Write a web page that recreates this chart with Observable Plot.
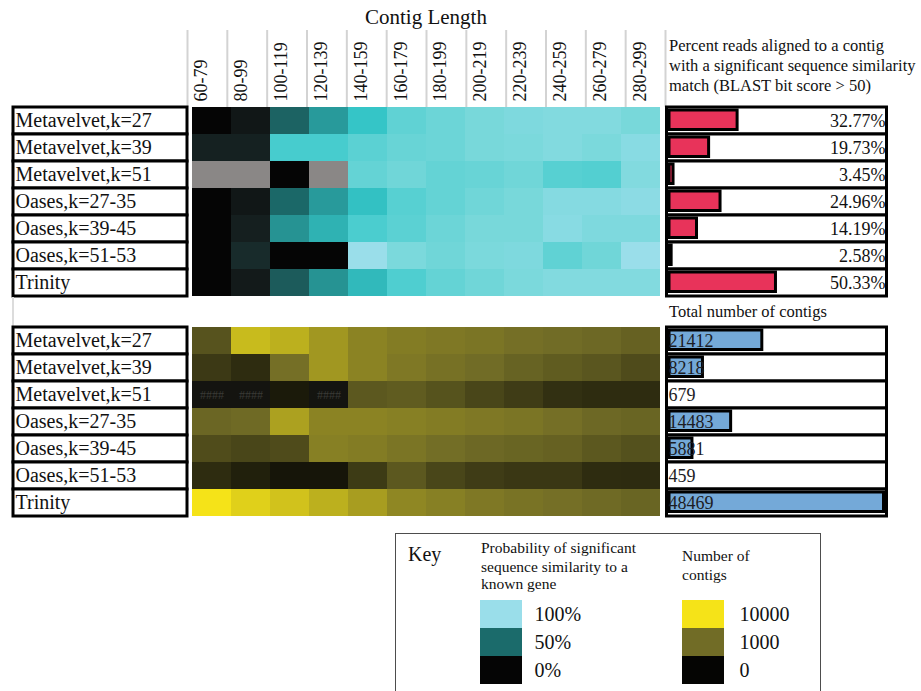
<!DOCTYPE html>
<html>
<head>
<meta charset="utf-8">
<script src="https://cdn.jsdelivr.net/npm/d3@7"></script>
<script src="https://cdn.jsdelivr.net/npm/@observablehq/plot@0.6"></script>
<style>
  html, body { margin: 0; padding: 0; background: #fff; overflow: hidden; }
  #root { position: relative; width: 921px; height: 691px; overflow: hidden; background: #fff;
          font-family: "Liberation Serif", "Times New Roman", serif; color: #111; }
  .abs { position: absolute; }
  .abs svg { display: block; max-width: none; }
  .abs svg, .abs svg g, .abs svg text { font-family: "Liberation Serif", "Times New Roman", serif !important; }
</style>
</head>
<body>
<div id="root"></div>
<script>
// ---------- data ----------
const columns = ["60-79", "80-99", "100-119", "120-139", "140-159", "160-179",
                 "180-199", "200-219", "220-239", "240-259", "260-279", "280-299"];
const assemblers = ["Metavelvet,k=27", "Metavelvet,k=39", "Metavelvet,k=51",
                    "Oases,k=27-35", "Oases,k=39-45", "Oases,k=51-53", "Trinity"];

// Probability (%) of significant sequence similarity per contig-length bin (null = error cell)
const probMetavelvet27 = [0, 12, 47, 62, 73, 84, 87, 90, 92, 93, 93, 90];
const probMetavelvet39 = [18, 18, 78, 78, 83, 86, 87, 90, 91, 93, 91, 95];
const probMetavelvet51 = [null, null, 0, null, 85, 88, 85, 86, 88, 82, 81, 93];
const probOases2735    = [0, 12, 49, 62, 72, 82, 85, 88, 90, 94, 94, 96];
const probOases3945    = [0, 17, 60, 68, 79, 83, 87, 90, 90, 95, 92, 92];
const probOases5153    = [0, 23, 0, 0, 100, 91, 88, 91, 92, 84, 88, 100];
const probTrinity      = [0, 14, 44, 60, 70, 80, 85, 88, 91, 93, 93, 93];

// Number of contigs per contig-length bin (null = "####" cell)
const countMetavelvet27 = [190, 4600, 3700, 2300, 1570, 1370, 1270, 1190, 1070, 1000, 780, 480];
const countMetavelvet39 = [32, 13, 1070, 2300, 1570, 1270, 1110, 1000, 540, 330, 230, 110];
const countMetavelvet51 = [null, null, 3, null, 260, 330, 180, 75, 40, 17, 13, 13];
const countOases2735    = [690, 880, 2800, 1570, 1570, 1460, 1370, 1270, 1190, 1070, 780, 610];
const countOases3945    = [120, 75, 110, 1460, 1370, 1190, 1040, 780, 610, 480, 260, 160];
const countOases5153    = [13, 5, 2, 2, 36, 260, 75, 40, 28, 28, 13, 12];
const countTrinity      = [10000, 6950, 5300, 3700, 2600, 1700, 1460, 1270, 1150, 1070, 880, 610];

const readsAlignedPct = [32.77, 19.73, 3.45, 24.96, 14.19, 2.58, 50.33];
const totalContigs = [21412, 8218, 679, 14483, 5881, 459, 48469];

const probKeyValues = [100, 50, 0];
const countKeyValues = [10000, 1000, 0];

// ---------- tables built from the arrays ----------
const probRows = [probMetavelvet27, probMetavelvet39, probMetavelvet51, probOases2735, probOases3945, probOases5153, probTrinity];
const countRows = [countMetavelvet27, countMetavelvet39, countMetavelvet51, countOases2735, countOases3945, countOases5153, countTrinity];
const toCells = rows => assemblers.flatMap((a, i) => columns.map((c, j) => ({assembler: a, length: c, value: rows[i][j]})));
const probCells = toCells(probRows);
const countCells = toCells(countRows);
const readsRows = assemblers.map((a, i) => ({assembler: a, pct: readsAlignedPct[i]}));
const totalRows = assemblers.map((a, i) => ({assembler: a, n: totalContigs[i]}));

// ---------- scales / styles ----------
const probColor = {type: "linear", domain: [0, 50, 90, 100],
                   range: ["#050505", "#1b6b6b", "#78d8da", "#9adeea"], interpolate: "hsl"};
const countColor = {type: "symlog", domain: [0, 1000, 10000],
                    range: ["#050503", "#716c26", "#f5e318"]};
const FONT = "Liberation Serif, Times New Roman, serif";
const baseStyle = {"background": "none", "overflow": "visible", "font-family": FONT, "max-width": "none"};

const root = document.getElementById("root");
function place(svg, left, top, w, h) {
  const d = document.createElement("div");
  d.className = "abs";
  Object.assign(d.style, {left: left + "px", top: top + "px", width: w + "px", height: h + "px"});
  d.appendChild(svg);
  root.appendChild(d);
}
function addText(str, left, baseline, size, extra = {}) {
  const el = document.createElement("div");
  el.textContent = str;
  Object.assign(el.style, {position: "absolute", left: left + "px", top: (baseline - 0.8375 * size) + "px",
    fontSize: size + "px", lineHeight: "1", whiteSpace: "pre", color: "#111"}, extra);
  root.appendChild(el);
}

// ---------- builders ----------
function heatmap(cells, color, nullFill, nullText, H) {
  return Plot.plot({
    width: 478, height: H, margin: 0,
    x: {type: "band", domain: columns, padding: 0, axis: null},
    y: {type: "band", domain: assemblers, padding: 0, axis: null},
    color, style: baseStyle,
    marks: [
      Plot.cell(cells.filter(d => d.value == null), {x: "length", y: "assembler", fill: nullFill, shapeRendering: "crispEdges"}),
      Plot.cell(cells.filter(d => d.value != null), {x: "length", y: "assembler", fill: "value", shapeRendering: "crispEdges"}),
      nullText ? Plot.text(cells.filter(d => d.value == null), {x: "length", y: "assembler", text: () => nullText,
                                                                fill: "#3a3a36", fontSize: 12, fontFamily: FONT}) : null
    ].filter(Boolean)
  });
}
function labels(H) {
  return Plot.plot({
    width: 174, height: H, margin: 0,
    y: {type: "band", domain: assemblers, padding: 0, axis: null},
    style: baseStyle,
    marks: [
      Plot.cell(assemblers, {y: d => d, fill: "white", stroke: "black", strokeWidth: 3}),
      Plot.text(assemblers, {y: d => d, text: d => d, frameAnchor: "left", textAnchor: "start", dx: 2,
                             fontSize: 20, fontFamily: FONT, fill: "#111"})
    ]
  });
}

// ---------- title & header ----------
addText("Contig Length", 187, 25, 21, {width: "478px", textAlign: "center"});

place(Plot.plot({
  width: 478, height: 77, margin: 0,
  x: {type: "linear", domain: [0, columns.length], range: [0, 478], axis: null},
  y: {axis: null},
  style: baseStyle,
  marks: [
    Plot.ruleX(d3.range(columns.length + 1), {stroke: "#d3d3d3", strokeWidth: 2}),
    Plot.text(columns, {x: (d, i) => i + 0.5, frameAnchor: "bottom", rotate: -90, textAnchor: "start",
                        dy: -6, text: d => d, fontSize: 18, fontFamily: FONT, fill: "#111"})
  ]
}), 187, 30, 478, 77);

addText("Percent reads aligned to a contig", 669, 52, 16.5);
addText("with a significant sequence similarity", 669, 72, 16.5);
addText("match (BLAST bit score > 50)", 669, 92, 16.5);

// ---------- top table ----------
place(heatmap(probCells, probColor, "#8a8786", null, 190), 187, 106, 478, 190);
place(labels(189), 13, 107, 174, 189);
place(Plot.plot({
  width: 223, height: 189, margin: 0,
  x: {domain: [0, 100], range: [0.5, 219], axis: null},
  y: {type: "band", domain: assemblers, padding: 0, axis: null},
  style: baseStyle,
  marks: [
    Plot.cell(assemblers, {y: d => d, fill: "white", stroke: "black", strokeWidth: 3, insetLeft: 1.5, insetRight: 1.5}),
    Plot.barX(readsRows, {x: "pct", y: "assembler", fill: "#e8335a", stroke: "black", strokeWidth: 3,
                          insetLeft: 3.5, insetTop: 3, insetBottom: 4.5}),
    Plot.text(readsRows, {y: "assembler", text: d => d.pct.toFixed(2) + "%", frameAnchor: "right",
                          textAnchor: "end", dx: -3, fontSize: 18, fontFamily: FONT, fill: "#111"})
  ]
}), 665, 107, 223, 189);

// gap gridline
const gl = document.createElement("div");
Object.assign(gl.style, {position: "absolute", left: "12px", top: "297px", width: "0px", height: "29px", borderLeft: "2px solid #dcdcdc"});
root.appendChild(gl);

addText("Total number of contigs", 669, 318, 16.5);

// ---------- bottom table ----------
place(heatmap(countCells, countColor, "#141410", "####", 190), 187, 326, 478, 190);
place(labels(190), 13, 326, 174, 190);
place(Plot.plot({
  width: 223, height: 190, margin: 0,
  x: {domain: [0, d3.max(totalContigs)], range: [0.5, 218.5], axis: null},
  y: {type: "band", domain: assemblers, padding: 0, axis: null},
  style: baseStyle,
  marks: [
    Plot.cell(assemblers, {y: d => d, fill: "white", stroke: "black", strokeWidth: 3, insetLeft: 1.5, insetRight: 1.5}),
    Plot.barX(totalRows, {x: "n", y: "assembler", fill: "#74a9d8", stroke: "black", strokeWidth: 3,
                          insetLeft: 3.5, insetTop: 3, insetBottom: 4.5}),
    Plot.text(totalRows, {y: "assembler", text: d => String(d.n), frameAnchor: "left",
                          textAnchor: "start", dx: 3, fontSize: 18, fontFamily: FONT, fill: "#1c1c24"})
  ]
}), 665, 326, 223, 190);

// ---------- key ----------
const kb = document.createElement("div");
Object.assign(kb.style, {position: "absolute", left: "395px", top: "533px", width: "426px", height: "200px",
  border: "1.5px solid #4d4d4d", boxSizing: "border-box"});
root.appendChild(kb);

addText("Key", 408, 561, 20);
addText("Probability of significant", 481, 553, 15.5);
addText("sequence similarity to a", 481, 571.5, 15.5);
addText("known gene", 481, 589, 15.5);
addText("Number of", 682, 561, 15.5);
addText("contigs", 682, 580, 15.5);

function keyPlot(values, color, fmt, textDx) {
  return Plot.plot({
    width: 130, height: 86, margin: 0,
    y: {type: "band", domain: values, padding: 0, axis: null},
    color, style: baseStyle,
    marks: [
      Plot.cell(values, {y: d => d, fill: d => d, insetRight: 88, shapeRendering: "crispEdges"}),
      Plot.text(values, {y: d => d, text: fmt, frameAnchor: "left", textAnchor: "start", dx: textDx,
                         fontSize: 20, fontFamily: FONT, fill: "#111"})
    ]
  });
}
place(keyPlot(probKeyValues, probColor, d => d + "%", 54), 480, 599, 130, 86);
place(keyPlot(countKeyValues, countColor, d => String(d), 57), 682, 599, 130, 86);
</script>
</body>
</html>
